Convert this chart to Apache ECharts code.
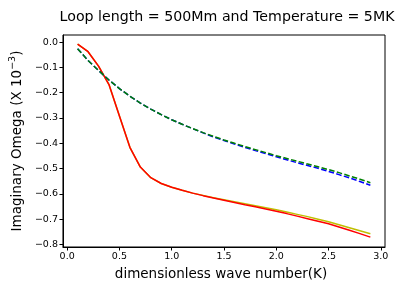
<!DOCTYPE html>
<html>
<head>
<meta charset="utf-8">
<script src="https://cdn.jsdelivr.net/npm/echarts@6/dist/echarts.min.js"></script>
<style>html,body{margin:0;padding:0;background:#fff;}#c{width:409px;height:288px;}</style>
</head>
<body>
<div id="c"></div>
<script>
var k = [0.1,0.2,0.3,0.4,0.5,0.6,0.7,0.8,0.9,1.0,1.1,1.2,1.3,1.4,1.5,1.6,1.7,1.8,1.9,2.0,2.1,2.2,2.3,2.4,2.5,2.6,2.7,2.8,2.9];
var redVals = [-0.008,-0.038,-0.095,-0.168,-0.292,-0.416,-0.494,-0.536,-0.559,-0.574,-0.586,-0.597,-0.607,-0.616,-0.625,-0.634,-0.643,-0.651,-0.660,-0.669,-0.678,-0.688,-0.698,-0.708,-0.718,-0.731,-0.744,-0.757,-0.771];
var yellowVals = [-0.008,-0.038,-0.095,-0.168,-0.292,-0.416,-0.494,-0.536,-0.559,-0.574,-0.586,-0.597,-0.606,-0.615,-0.623,-0.631,-0.639,-0.647,-0.655,-0.663,-0.672,-0.681,-0.690,-0.700,-0.710,-0.722,-0.734,-0.746,-0.758];
var greenVals = [-0.026,-0.073,-0.112,-0.150,-0.184,-0.214,-0.241,-0.265,-0.287,-0.307,-0.325,-0.342,-0.358,-0.373,-0.387,-0.400,-0.413,-0.425,-0.437,-0.449,-0.460,-0.471,-0.482,-0.493,-0.504,-0.516,-0.529,-0.542,-0.556];
var blueVals = [-0.026,-0.073,-0.112,-0.150,-0.184,-0.214,-0.241,-0.265,-0.287,-0.307,-0.325,-0.342,-0.359,-0.375,-0.389,-0.403,-0.416,-0.429,-0.441,-0.453,-0.465,-0.477,-0.488,-0.499,-0.511,-0.524,-0.537,-0.551,-0.566];
var xTicks = [0.0,0.5,1.0,1.5,2.0,2.5,3.0];
var yTicks = [0.0,-0.1,-0.2,-0.3,-0.4,-0.5,-0.6,-0.7,-0.8];
var titleText = 'Loop length = 500Mm and Temperature = 5MK';
var xName = 'dimensionless wave number(K)';

function pairs(vals){ return k.map(function(x,i){ return [x, vals[i]]; }); }
function fmt(v){ var s = Math.abs(v).toFixed(1); return (v < -1e-9 ? '\u2212' : '') + s; }

var font = 'DejaVu Sans';
var chart = echarts.init(document.getElementById('c'), null, {renderer:'canvas'});
chart.setOption({
  animation:false,
  backgroundColor:'#fff',
  title:{text:titleText,left:222,top:5,textAlign:'center',
    textStyle:{fontFamily:font,fontSize:14.2,fontWeight:'normal',color:'#000'}},
  grid:{left:57,right:24,top:35,bottom:41,show:true,borderColor:'#000',borderWidth:1,backgroundColor:'transparent'},
  xAxis:{type:'value',min:-0.04,max:3.04,
    name:xName,nameLocation:'middle',nameGap:20,
    nameTextStyle:{fontFamily:font,fontSize:13.5,color:'#000',padding:[0,6,0,0]},
    axisLine:{show:true,onZero:false,lineStyle:{color:'#000',width:1}},
    axisTick:{show:true,length:3.5,lineStyle:{color:'#000'},customValues:xTicks},
    axisLabel:{fontFamily:font,fontSize:9.5,color:'#000',margin:5,customValues:xTicks,formatter:function(v){return fmt(v);}},
    splitLine:{show:false}},
  yAxis:{type:'value',min:-0.81,max:0.028,
    name:'{n|Imaginary Omega (X 10}{s|\u22123}{n|)}',nameLocation:'middle',nameGap:35,nameRotate:90,
    nameTextStyle:{fontFamily:font,fontSize:13.5,color:'#000',
      rich:{n:{fontFamily:font,fontSize:13.5,color:'#000'},s:{fontFamily:font,fontSize:9.5,color:'#000',verticalAlign:'bottom',padding:[0,0,8,0]}}},
    axisLine:{show:true,onZero:false,lineStyle:{color:'#000',width:1}},
    axisTick:{show:true,length:3.5,lineStyle:{color:'#000'},customValues:yTicks},
    axisLabel:{fontFamily:font,fontSize:9.5,color:'#000',margin:5,customValues:yTicks,formatter:function(v){return fmt(v);}},
    splitLine:{show:false}},
  series:[
    {type:'line',data:pairs(yellowVals),showSymbol:false,lineStyle:{color:'#bfbf00',width:1.5},itemStyle:{color:'#bfbf00'}},
    {type:'line',data:pairs(redVals),showSymbol:false,lineStyle:{color:'#ff0000',width:1.5},itemStyle:{color:'#ff0000'}},
    {type:'line',data:pairs(blueVals),showSymbol:false,lineStyle:{color:'#0000ff',width:1.5,type:[5.5,2.4]},itemStyle:{color:'#0000ff'}},
    {type:'line',data:pairs(greenVals),showSymbol:false,lineStyle:{color:'#008000',width:1.5,type:[5.5,2.4]},itemStyle:{color:'#008000'}}
  ]
});
</script>
</body>
</html>
